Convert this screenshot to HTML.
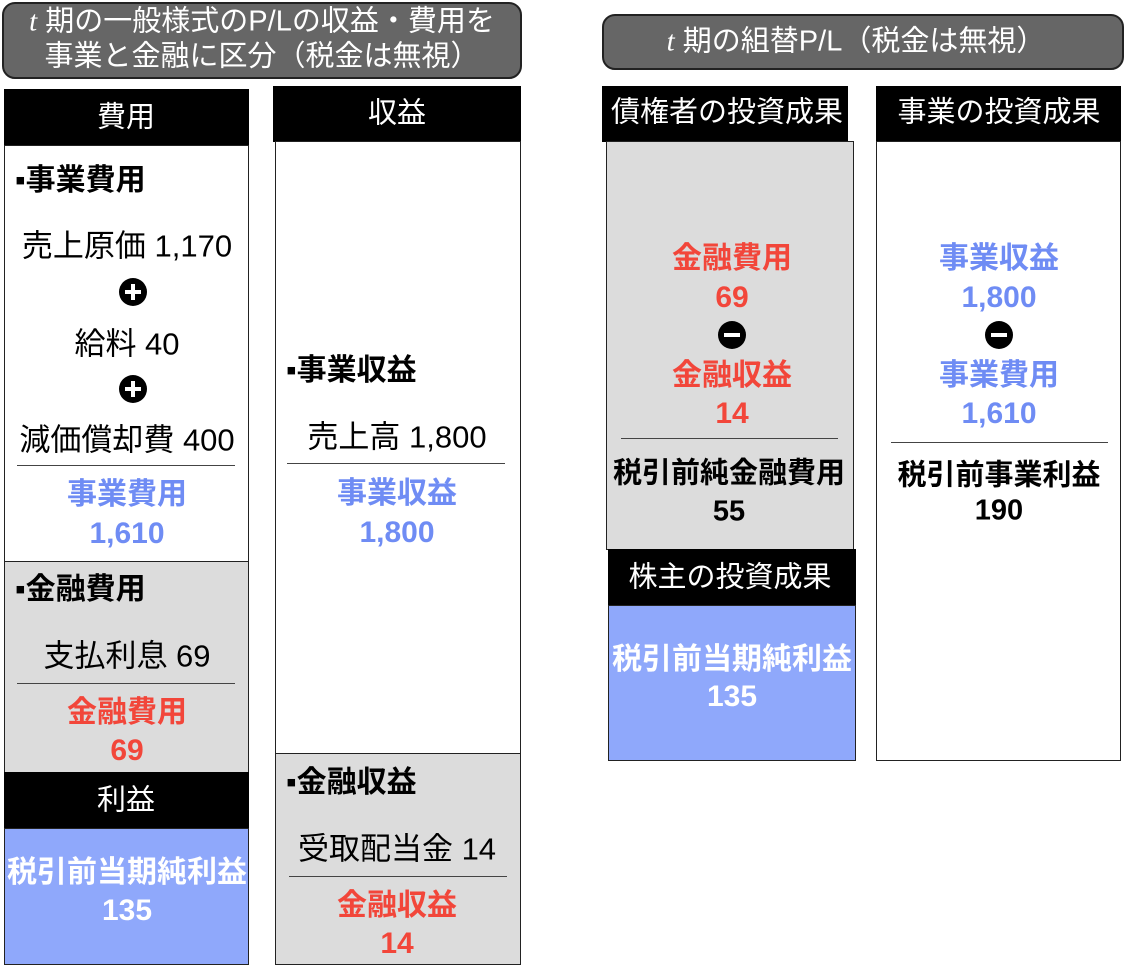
<!DOCTYPE html>
<html><head><meta charset="utf-8"><style>
body{margin:0;width:1125px;height:967px;background:#fff;position:relative;overflow:hidden;font-family:"Liberation Sans","Noto Sans CJK JP",sans-serif;}
div{position:absolute;box-sizing:border-box;}
.pill{background:#666;border:2px solid #222;border-radius:13px;color:#fff;text-align:center;}
.hd{background:#000;color:#fff;text-align:center;}
.bx{border:1.5px solid #222;}
.t{white-space:nowrap;transform:translate(-50%,-50%);text-align:center;line-height:1;}
.l{white-space:nowrap;transform:translateY(-50%);line-height:1;}
.b{font-weight:bold;}
.blue{color:#6f8cf4;}
.red{color:#f2463a;}
.ln{height:1px;background:#444;}
.c{width:28px;height:28px;border-radius:50%;background:#000;transform:translate(-50%,-50%);}
.c::before{content:"";position:absolute;left:6px;top:12px;width:16px;height:4px;background:#fff;}
.p::after{content:"";position:absolute;left:12px;top:6px;width:4px;height:16px;background:#fff;}
.r{font-size:31px;}
.bb{font-size:30px;}
.h{font-size:29px;color:#fff;}
</style></head><body>
<div class="pill" style="left:2px;top:2px;width:520px;height:77px;"></div>
<div class="t" style="left:262px;top:22px;color:#fff;font-size:29px;"><i style="font-family:'Liberation Serif',serif">t</i> 期の一般様式のP/Lの収益・費用を</div>
<div class="t" style="left:262px;top:57px;color:#fff;font-size:29px;">事業と金融に区分（税金は無視）</div>
<div class="pill" style="left:602px;top:14px;width:522px;height:56px;"></div>
<div class="t" style="left:856px;top:42px;color:#fff;font-size:29px;"><i style="font-family:'Liberation Serif',serif">t</i> 期の組替P/L（税金は無視）</div>

<!-- col1 -->
<div class="hd" style="left:4px;top:89px;width:245px;height:56px;"></div>
<div class="t h" style="left:126px;top:118px;">費用</div>
<div class="bx" style="left:4px;top:145px;width:245px;height:417px;"></div>
<div class="bx" style="left:4px;top:561px;width:245px;height:212px;background:#dcdcdc;"></div>
<div class="hd" style="left:4px;top:772px;width:245px;height:56px;"></div>
<div class="t h" style="left:126px;top:801px;">利益</div>
<div class="bx" style="left:4px;top:828px;width:245px;height:137px;background:#8fa8fb;"></div>
<div class="l b bb" style="left:15px;top:181px;">▪事業費用</div>
<div class="t r" style="left:127px;top:246px;">売上原価 1,170</div>
<div class="c p" style="left:133px;top:292px;"></div>
<div class="t r" style="left:127px;top:344px;">給料 40</div>
<div class="c p" style="left:133px;top:389px;"></div>
<div class="t r" style="left:127px;top:440px;">減価償却費 400</div>
<div class="ln" style="left:17px;top:465px;width:218px;"></div>
<div class="t b blue bb" style="left:127px;top:495px;">事業費用</div>
<div class="t b blue bb" style="left:127px;top:534px;">1,610</div>
<div class="l b bb" style="left:15px;top:590px;">▪金融費用</div>
<div class="t r" style="left:127px;top:656px;">支払利息 69</div>
<div class="ln" style="left:17px;top:683px;width:218px;"></div>
<div class="t b red bb" style="left:127px;top:713px;">金融費用</div>
<div class="t b red bb" style="left:127px;top:751px;">69</div>
<div class="t b bb" style="left:127px;top:873px;color:#fff;">税引前当期純利益</div>
<div class="t b bb" style="left:127px;top:911px;color:#fff;">135</div>

<!-- col2 -->
<div class="hd" style="left:273px;top:86px;width:248px;height:56px;"></div>
<div class="t h" style="left:397px;top:114px;">収益</div>
<div class="bx" style="left:275px;top:141px;width:246px;height:613px;"></div>
<div class="bx" style="left:275px;top:753px;width:246px;height:212px;background:#dcdcdc;"></div>
<div class="l b bb" style="left:286px;top:371px;">▪事業収益</div>
<div class="t r" style="left:397px;top:437px;">売上高 1,800</div>
<div class="ln" style="left:287px;top:463px;width:218px;"></div>
<div class="t b blue bb" style="left:397px;top:494px;">事業収益</div>
<div class="t b blue bb" style="left:397px;top:533px;">1,800</div>
<div class="l b bb" style="left:286px;top:783px;">▪金融収益</div>
<div class="t r" style="left:397px;top:849px;">受取配当金 14</div>
<div class="ln" style="left:289px;top:876px;width:218px;"></div>
<div class="t b red bb" style="left:397px;top:906px;">金融収益</div>
<div class="t b red bb" style="left:397px;top:944px;">14</div>

<!-- col3 -->
<div class="hd" style="left:602px;top:86px;width:246px;height:56px;"></div>
<div class="t h" style="left:727px;top:113px;">債権者の投資成果</div>
<div class="bx" style="left:606px;top:141px;width:248px;height:409px;background:#dcdcdc;"></div>
<div class="hd" style="left:608px;top:549px;width:248px;height:56px;"></div>
<div class="t h" style="left:730px;top:578px;">株主の投資成果</div>
<div class="bx" style="left:608px;top:605px;width:248px;height:156px;background:#8fa8fb;"></div>
<div class="t b red bb" style="left:732px;top:259px;">金融費用</div>
<div class="t b red bb" style="left:732px;top:298px;">69</div>
<div class="c" style="left:732px;top:335px;"></div>
<div class="t b red bb" style="left:732px;top:376px;">金融収益</div>
<div class="t b red bb" style="left:732px;top:414px;">14</div>
<div class="ln" style="left:621px;top:438px;width:217px;"></div>
<div class="t b" style="left:729px;top:474px;font-size:29px;">税引前純金融費用</div>
<div class="t b" style="left:729px;top:512px;font-size:29px;">55</div>
<div class="t b bb" style="left:732px;top:660px;color:#fff;">税引前当期純利益</div>
<div class="t b bb" style="left:732px;top:697px;color:#fff;">135</div>

<!-- col4 -->
<div class="hd" style="left:876px;top:86px;width:245px;height:56px;"></div>
<div class="t h" style="left:999px;top:113px;">事業の投資成果</div>
<div class="bx" style="left:876px;top:141px;width:245px;height:620px;"></div>
<div class="t b blue bb" style="left:999px;top:259px;">事業収益</div>
<div class="t b blue bb" style="left:999px;top:298px;">1,800</div>
<div class="c" style="left:999px;top:335px;"></div>
<div class="t b blue bb" style="left:999px;top:376px;">事業費用</div>
<div class="t b blue bb" style="left:999px;top:414px;">1,610</div>
<div class="ln" style="left:891px;top:442px;width:217px;"></div>
<div class="t b" style="left:999px;top:476px;font-size:29px;">税引前事業利益</div>
<div class="t b" style="left:999px;top:511px;font-size:29px;">190</div>
</body></html>
